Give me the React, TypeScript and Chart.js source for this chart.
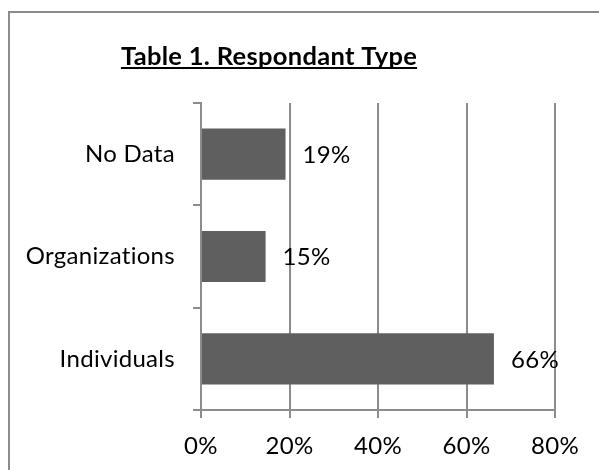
import React, { useEffect, useRef } from "react";
import { Chart, registerables } from "chart.js";

Chart.register(...registerables);

const categories = ["No Data", "Organizations", "Individuals"];
const values = [19.1, 14.6, 66.2];
const valueLabels = ["19%", "15%", "66%"];
const xTickValues = [0, 20, 40, 60, 80];
const chartTitle = "Table 1. Respondant Type";

const FONT = "Lato, 'Open Sans', sans-serif";
const LINE = "#8c8c8c";

export default function App() {
  const ref = useRef<HTMLCanvasElement>(null);

  useEffect(() => {
    if (!ref.current) return;
    const deco = {
      id: "deco",
      beforeDraw(chart: any) {
        const ctx = chart.ctx;
        ctx.save();
        ctx.fillStyle = "#ffffff";
        ctx.fillRect(0, 0, chart.width, chart.height);
        ctx.fillStyle = LINE;
        ctx.fillRect(8, 11, 2, chart.height);
        ctx.fillRect(8, 11, chart.width, 2);
        ctx.restore();
        try {
          ctx.letterSpacing = "0.3px";
        } catch (e) {}
      },
      afterDraw(chart: any) {
        const ctx = chart.ctx;
        ctx.save();
        ctx.font = `bold 25.5px ${FONT}`;
        ctx.fillStyle = "#000";
        ctx.textAlign = "center";
        ctx.textBaseline = "alphabetic";
        const tx = 269;
        const ty = 65;
        ctx.fillText(chartTitle, tx, ty);
        const w = ctx.measureText(chartTitle).width;
        ctx.fillRect(tx - w / 2, ty + 2, w, 2);
        ctx.font = `24px ${FONT}`;
        ctx.textAlign = "left";
        ctx.textBaseline = "middle";
        const meta = chart.getDatasetMeta(0);
        meta.data.forEach((el: any, i: number) => {
          ctx.fillText(valueLabels[i], el.x + 17, el.y + 1);
        });
        ctx.restore();
      },
    };

    const chart = new Chart(ref.current, {
      type: "bar",
      data: {
        labels: categories,
        datasets: [
          {
            data: values,
            backgroundColor: "#5f5f5f",
            borderWidth: 0,
            barPercentage: 0.5,
            categoryPercentage: 1,
          },
        ],
      },
      options: {
        indexAxis: "y",
        animation: false,
        responsive: false,
        devicePixelRatio: 1,
        layout: { padding: { top: 103, right: 44, left: 0, bottom: 0 } },
        plugins: {
          legend: { display: false },
          title: { display: false },
          tooltip: { enabled: false },
        },
        scales: {
          x: {
            min: 0,
            max: 80,
            afterFit: (s: any) => {
              s.height = 60;
            },
            afterBuildTicks: (s: any) => {
              s.ticks = xTickValues.map((v) => ({ value: v }));
            },
            ticks: {
              callback: (v: any) => `${v}%`,
              color: "#000",
              font: { family: FONT, size: 24 },
              padding: 14,
              maxRotation: 0,
            },
            grid: { color: LINE, lineWidth: 2, tickLength: 8, drawTicks: true },
            border: { display: true, color: LINE, width: 2 },
          },
          y: {
            afterFit: (s: any) => {
              s.width = 201;
            },
            ticks: {
              color: "#000",
              font: { family: FONT, size: 24 },
              padding: 18,
            },
            grid: {
              drawOnChartArea: false,
              drawTicks: true,
              tickLength: 8,
              color: LINE,
              lineWidth: 2,
              offset: true,
            },
            border: { display: true, color: LINE, width: 2 },
          },
        },
      },
      plugins: [deco],
    } as any);
    return () => chart.destroy();
  }, []);

  return (
    <div style={{ position: "absolute", left: 0, top: 0, width: 599, height: 470 }}>
      <canvas ref={ref} width={599} height={470} style={{ display: "block" }} />
    </div>
  );
}
